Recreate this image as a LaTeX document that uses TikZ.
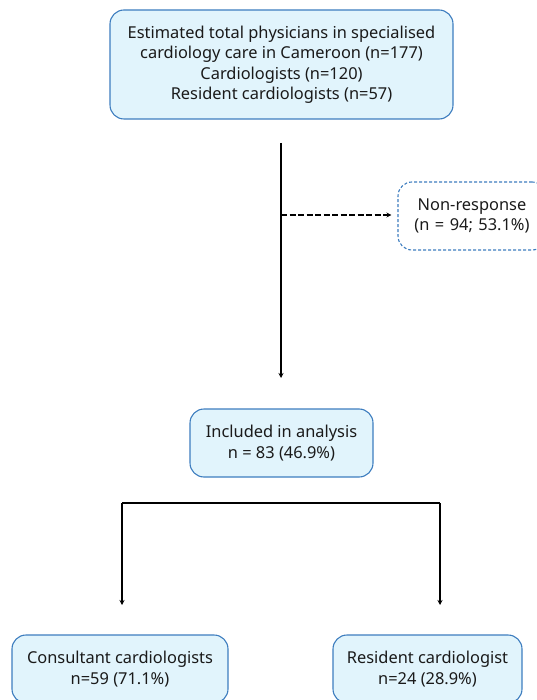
\documentclass[tikz,border=0pt]{standalone}
\usepackage{fontspec}
\setmainfont{Noto Sans}
\usetikzlibrary{arrows.meta}
\definecolor{boxfill}{HTML}{E1F4FC}
\definecolor{boxline}{HTML}{3D7DBF}
\definecolor{txt}{HTML}{1A1A1A}
\tikzset{
  box/.style={draw=boxline, line width=1.1pt, fill=boxfill, rounded corners=14pt,
    align=center, inner sep=0pt, text=txt, font=\fontsize{16.4}{20.5}\selectfont},
  dbox/.style={box, fill=none, dashed, dash pattern=on 3pt off 2pt},
  conn/.style={line width=1.3pt, -{Stealth[length=5pt,width=5pt]}},
}
\begin{document}
\begin{tikzpicture}[x=1pt,y=1pt]
\useasboundingbox (0,0) rectangle (536,-700);
\node[box, minimum width=343pt, minimum height=109pt] (top) at (281.5,-64.5)
  {Estimated total physicians in specialised\\cardiology care in Cameroon (n=177)\\Cardiologists (n=120)\\Resident cardiologists (n=57)};
\node[dbox, minimum width=148pt, minimum height=68pt, text width=140pt] (non) at (472,-216)
  {Non-response\\(n = 94; 53.1\%)};
\node[box, minimum width=183pt, minimum height=68pt] (inc) at (281.5,-443)
  {Included in analysis\\n = 83 (46.9\%)};
\node[box, minimum width=216pt, minimum height=68pt] (cons) at (120,-669)
  {Consultant cardiologists\\n=59 (71.1\%)};
\node[box, minimum width=189pt, minimum height=68pt] (res) at (427.5,-669)
  {Resident cardiologist\\n=24 (28.9\%)};
\coordinate (vtop) at (281,-143);
\coordinate (vend) at (281,-378);
\coordinate (split) at (281,-215);
\coordinate (bl) at (122,-503);
\coordinate (br) at (440,-503);
\coordinate (ble) at (122,-605);
\coordinate (bre) at (440,-605);
\draw[conn] (vtop) -- (vend);
\draw[line width=1.1pt, dash pattern=on 6pt off 2.5pt] (split) -- ([xshift=-10pt]non.west |- split);
\draw[conn, line width=1.1pt] ([xshift=-11pt]non.west |- split) -- ([xshift=-6pt]non.west |- split);
\draw[conn] (bl) -- (ble);
\draw[conn] (br) -- (bre);
\draw[line width=1.3pt] (bl) -- (br);
\end{tikzpicture}
\end{document}
